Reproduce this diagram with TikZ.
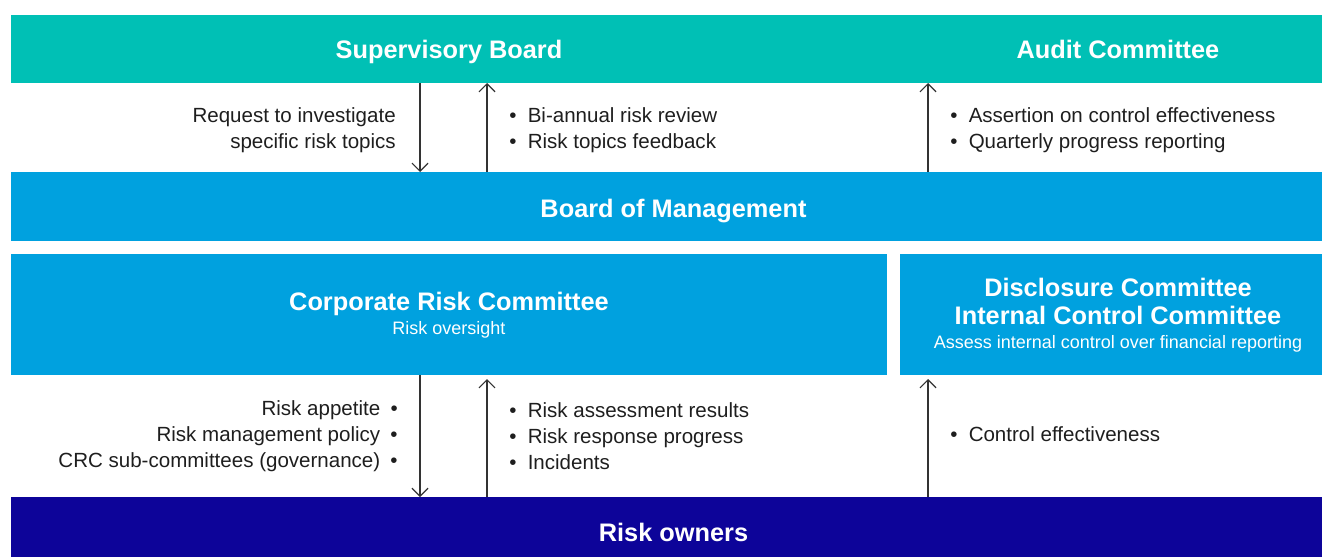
\documentclass[tikz,border=0pt]{standalone}
\usepackage{fontspec}
\setmainfont{Liberation Sans}
\usetikzlibrary{arrows.meta}
\definecolor{sbteal}{HTML}{00C0B5}
\definecolor{mgmtblue}{HTML}{00A1DF}
\definecolor{ownerblue}{HTML}{0D0499}
\definecolor{txtgray}{HTML}{1E1E1E}
\newcommand{\bul}{\textbullet\hspace{0.55em}}
\newcommand{\lub}{\hspace{0.5em}\textbullet}
\begin{document}
\begin{tikzpicture}[x=0.75pt, y=-0.75pt,
    box/.style={inner sep=0pt, outer sep=0pt},
    title/.style={font=\fontsize{19}{21}\selectfont\bfseries, text=white, anchor=base, inner sep=0pt},
    sub/.style={font=\fontsize{13.5}{17}\selectfont, text=white, anchor=base, inner sep=0pt},
    lbl/.style={font=\fontsize{15.4}{19.5}\selectfont, text=txtgray, inner sep=0pt},
    arr/.style={-{Straight Barb[length=6pt, width=12pt]}, line width=0.9pt, draw=black!80}]
    \path[use as bounding box, clip] (0,0) rectangle (1322,557);

    % === Bandas ===
    \node[box, fill=sbteal, minimum width=993.75pt, minimum height=51pt] (top) at (673.5,49) {};
    \node[title] (sup) at (449,58) {Supervisory Board};
    \node[title] (aud) at (1118,58) {Audit Committee};

    \node[box, fill=mgmtblue, minimum width=993.75pt, minimum height=51.75pt] (bom) at (673.5,206.5) {};
    \node[title] (bomt) at (673.5,217) {Board of Management};

    \node[box, fill=mgmtblue, minimum width=657pt, minimum height=90.75pt] (crc) at (449,314.5) {};
    \node[title] (crct) at (449,310) {Corporate Risk Committee};
    \node[sub] (crcs) at (449,334) {Risk oversight};

    \node[box, fill=mgmtblue, minimum width=327pt, minimum height=90.75pt] (dcc) at (1118,314.5) {};
    \node[title] (dcct) at (1118,296) {Disclosure Committee};
    \node[title] (icct) at (1118,324) {Internal Control Committee};
    \node[sub] (dccs) at (1118,348) {Assess internal control over financial reporting};

    \node[box, fill=ownerblue, minimum width=993.75pt, minimum height=52.5pt] (ro) at (673.5,532) {};
    \node[title] (rot) at (673.5,541) {Risk owners};

    % === Flechas ===
    \coordinate (xa) at (420,0);
    \coordinate (xb) at (487,0);
    \coordinate (xc) at (928,0);

    \draw[arr] (top.south -| xa) -- (bom.north -| xa);
    \draw[arr] (bom.north -| xb) -- (top.south -| xb);
    \draw[arr] (bom.north -| xc) -- (top.south -| xc);

    \draw[arr] (crc.south -| xa) -- (ro.north -| xa);
    \draw[arr, shorten >=3pt] (ro.north -| xb) -- (crc.south -| xb);
    \draw[arr, shorten >=3pt] (ro.north -| xc) -- (dcc.south -| xc);

    % === Textos ===
    \node[lbl, anchor=east, align=right] (req) at (396,130)
        {Request to investigate\\specific risk topics};
    \node[lbl, anchor=west, align=left] (rev) at (509,130)
        {\bul Bi-annual risk review\\\bul Risk topics feedback};
    \node[lbl, anchor=west, align=left] (ass) at (950,130)
        {\bul Assertion on control effectiveness\\\bul Quarterly progress reporting};

    \node[lbl, anchor=east, align=right] (app) at (398,436)
        {Risk appetite\lub\\Risk management policy\lub\\CRC sub-committees (governance)\lub};
    \node[lbl, anchor=west, align=left] (res) at (509,436)
        {\bul Risk assessment results\\\bul Risk response progress\\\bul Incidents};
    \node[lbl, anchor=west, align=left] (eff) at (950,434)
        {\bul Control effectiveness};
\end{tikzpicture}
\end{document}
